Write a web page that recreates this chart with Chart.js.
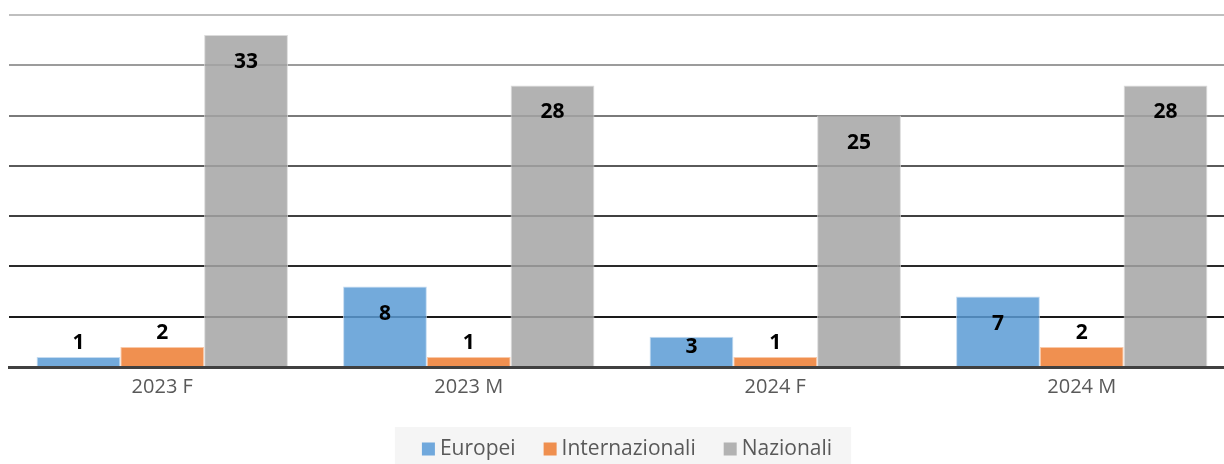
<!DOCTYPE html>
<html>
<head>
<meta charset="utf-8">
<script src="https://cdn.jsdelivr.net/npm/chart.js@4.4.0/dist/chart.umd.min.js"></script>
<style>
	html, body { margin: 0; padding: 0; background: #fff; overflow: hidden; }
	#wrap { width: 1236px; height: 464px; }
</style>
</head>
<body>
<div id="wrap"><canvas id="grafico"></canvas></div>
<script>
// Dati del grafico
var categorie = ['2023 F', '2023 M', '2024 F', '2024 M'];
var europei = [1, 8, 3, 7];
var internazionali = [2, 1, 1, 2];
var nazionali = [33, 28, 25, 28];

// Colori delle linee di griglia, dal basso (5) verso l'alto (35)
var coloriGriglia = {
	5: '#1a1a1a', 10: '#2a2a2a', 15: '#404040', 20: '#5a5a5a',
	25: '#7a7a7a', 30: '#9c9c9c', 35: '#bfbfbf'
};

// Colori pieni dei quadratini della legenda
var coloriLegenda = ['#70a8dc', '#ef8f4f', '#b2b2b2'];

// Etichette dei valori sulle barre
var etichettePlugin = {
	id: 'etichette',
	afterDatasetsDraw: function(chart) {
		var ctx = chart.ctx;
		ctx.save();
		ctx.font = 'bold 21px "Open Sans"';
		ctx.fillStyle = '#000';
		ctx.textAlign = 'center';
		ctx.textBaseline = 'middle';
		chart.data.datasets.forEach(function(ds, i) {
			chart.getDatasetMeta(i).data.forEach(function(bar, j) {
				var h = bar.base - bar.y;
				var y;
				if (h < 25) y = bar.y - 14; // barra troppo bassa: etichetta sopra
				else y = Math.min(bar.y + 27, bar.base - 19);
				ctx.fillText(ds.data[j], bar.x, y);
			});
		});
		ctx.restore();
	}
};

// Legenda disegnata a mano sotto il grafico, con sfondo grigio chiaro
var legendaPlugin = {
	id: 'legenda',
	afterDraw: function(chart) {
		var ctx = chart.ctx;
		var dss = chart.data.datasets;
		var box = 13, gapTesto = 5, gapVoci = 28;
		ctx.save();
		ctx.font = '21px "Open Sans"';
		var larghezze = dss.map(function(ds) { return ctx.measureText(ds.label).width; });
		var totale = 0;
		larghezze.forEach(function(w, i) {
			totale += box + gapTesto + w + (i < dss.length - 1 ? gapVoci : 0);
		});
		var centro = (chart.chartArea.left + chart.chartArea.right) / 2 + 5;
		var x = centro - totale / 2;
		var yc = 449;

		ctx.fillStyle = '#f5f5f5';
		ctx.fillRect(x - 27, 427, totale + 46, 40);

		ctx.textBaseline = 'middle';
		dss.forEach(function(ds, i) {
			ctx.fillStyle = coloriLegenda[i];
			ctx.fillRect(x, yc - box / 2, box, box);
			x += box + gapTesto;
			ctx.fillStyle = '#595959';
			ctx.fillText(ds.label, x, yc);
			x += larghezze[i] + gapVoci;
		});
		ctx.restore();
	}
};

var grafico = new Chart(document.getElementById('grafico'), {
	type: 'bar',
	data: {
		labels: categorie,
		datasets: [{
			label: 'Europei',
			data: europei,
			backgroundColor: 'rgba(91,155,213,0.85)',
			borderColor: 'rgba(190,215,240,0.9)',
			borderWidth: 1
		}, {
			label: 'Internazionali',
			data: internazionali,
			backgroundColor: 'rgba(237,125,49,0.85)',
			borderColor: 'rgba(248,195,160,0.9)',
			borderWidth: 1
		}, {
			label: 'Nazionali',
			data: nazionali,
			backgroundColor: 'rgba(165,165,165,0.85)',
			borderColor: 'rgba(215,215,215,0.9)',
			borderWidth: 1
		}]
	},
	options: {
		responsive: true,
		maintainAspectRatio: false,
		animation: false,
		layout: { padding: { left: 9, right: 1, top: 15, bottom: 57 } },
		datasets: { bar: { categoryPercentage: 0.82, barPercentage: 1.0 } },
		plugins: {
			legend: { display: false },
			tooltip: { enabled: false }
		},
		scales: {
			x: {
				grid: { display: false, drawTicks: false },
				border: { display: true, color: '#404040', width: 3 },
				ticks: {
					font: { family: '"Open Sans"', size: 20 },
					color: '#595959',
					padding: 8
				}
			},
			y: {
				min: 0,
				max: 35,
				ticks: { stepSize: 5, display: false },
				border: { display: false },
				grid: {
					drawTicks: false,
					lineWidth: 2,
					color: function(c) {
						return coloriGriglia[c.tick.value] || 'rgba(0,0,0,0)';
					}
				}
			}
		}
	},
	plugins: [etichettePlugin, legendaPlugin]
});
</script>
</body>
</html>
